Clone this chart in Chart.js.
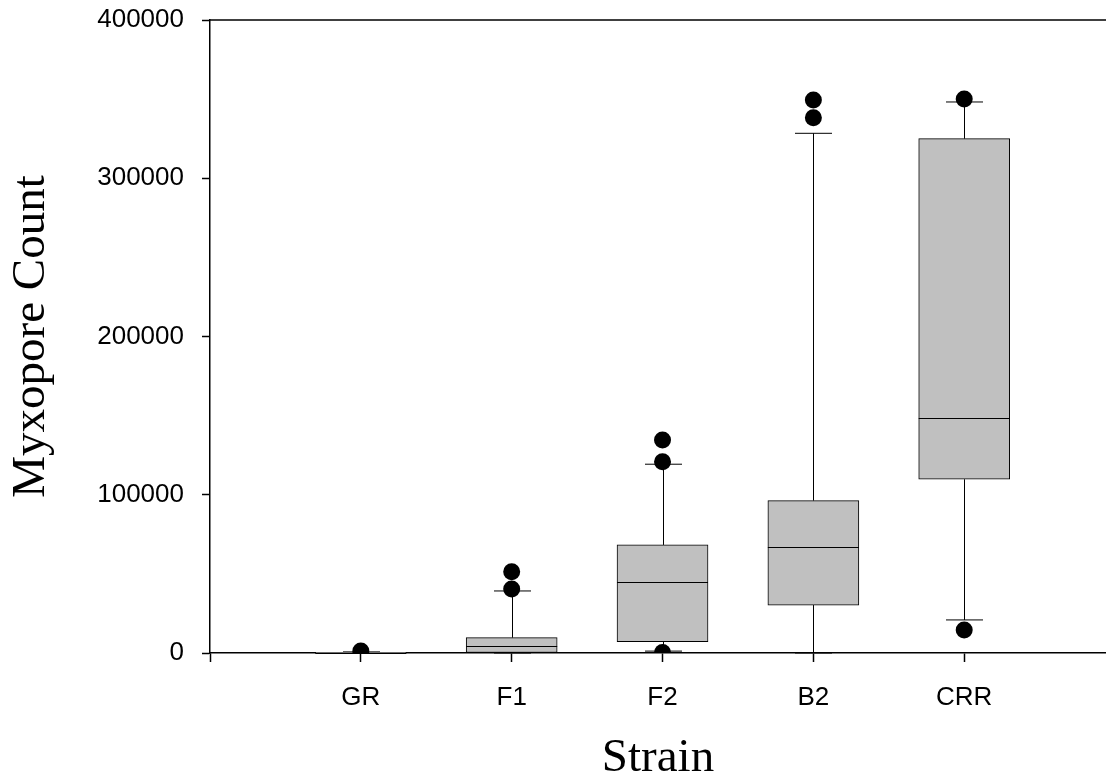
<!DOCTYPE html>
<html>
<head>
<meta charset="utf-8">
<script src="https://cdn.jsdelivr.net/npm/chart.js@4"></script>
<style>
  html, body { margin: 0; padding: 0; background: #fff; }
  #wrap { width: 1106px; height: 782px; position: relative; }
</style>
</head>
<body>
<div id="wrap"><canvas id="boxchart"></canvas></div>
<script>
// box plot values
const strains = ['GR', 'F1', 'F2', 'B2', 'CRR'];
const lowerWhisker = [0, 0, 1200, 0, 20900];
const q1 = [0, 0, 7100, 30300, 109800];
const median = [100, 4400, 44900, 67000, 148700];
const q3 = [500, 9700, 68300, 96300, 325000];
const upperWhisker = [700, 39200, 119300, 328400, 348200];
const outliers = [[1200], [40400, 51400], [300, 120900, 134600], [338300, 349500], [14500, 350100]];

const yTicks = [0, 100000, 200000, 300000, 400000];

const BOX_W = 91;   // px
const CAP_W = 37;   // px

const boxData = strains.map((s, i) => ({x: i + 1, y: [q1[i], q3[i]]}));
const outlierData = [];
outliers.forEach((arr, i) => arr.forEach(v => outlierData.push({x: i + 1, y: v})));

const frameLines = {
    id: 'frameLines',
    beforeDatasetsDraw(chart) {
        const ctx = chart.ctx, xs = chart.scales.x, ys = chart.scales.y;
        ctx.save();
        ctx.strokeStyle = '#000';
        ctx.lineWidth = 1;
        strains.forEach((s, i) => {
            const x = Math.round(xs.getPixelForValue(i + 1)) + 0.5;
            const yu = ys.getPixelForValue(upperWhisker[i]);
            const yq3 = ys.getPixelForValue(q3[i]);
            const yl = ys.getPixelForValue(lowerWhisker[i]);
            const yq1 = ys.getPixelForValue(q1[i]);
            ctx.beginPath();
            ctx.moveTo(x, yq3); ctx.lineTo(x, yu);
            ctx.moveTo(x - CAP_W / 2, yu); ctx.lineTo(x + CAP_W / 2, yu);
            ctx.moveTo(x, yq1); ctx.lineTo(x, yl);
            ctx.moveTo(x - CAP_W / 2, yl); ctx.lineTo(x + CAP_W / 2, yl);
            ctx.stroke();
        });
        ctx.restore();
    },
    afterDatasetDraw(chart, args) {
        if (args.meta.type !== 'bar') return;
        const ctx = chart.ctx, xs = chart.scales.x, ys = chart.scales.y;
        ctx.save();
        ctx.strokeStyle = '#000';
        ctx.lineWidth = 1;
        strains.forEach((s, i) => {
            const x = xs.getPixelForValue(i + 1);
            const y = Math.round(ys.getPixelForValue(median[i])) + 0.5;
            ctx.beginPath();
            ctx.moveTo(x - BOX_W / 2, y); ctx.lineTo(x + BOX_W / 2, y);
            ctx.stroke();
        });
        ctx.restore();
    },
    afterDraw(chart) {
        // top frame line
        const ctx = chart.ctx, a = chart.chartArea;
        ctx.save();
        ctx.strokeStyle = '#000';
        ctx.lineWidth = 1.5;
        ctx.beginPath();
        ctx.moveTo(a.left, a.top);
        ctx.lineTo(a.right, a.top);
        ctx.stroke();
        ctx.restore();
    }
};

const boxchart = new Chart('boxchart', {
    type: 'bar',
    data: {
        datasets: [{
            type: 'scatter',
            data: outlierData,
            backgroundColor: '#000',
            borderWidth: 0,
            pointRadius: 8.5,
            order: 1
        }, {
            type: 'bar',
            data: boxData,
            backgroundColor: '#c0c0c0',
            borderColor: '#000',
            borderWidth: 1,
            borderSkipped: false,
            barThickness: BOX_W,
            order: 2
        }]
    },
    options: {
        responsive: true,
        maintainAspectRatio: false,
        animation: false,
        layout: {autoPadding: false, padding: {top: 20, right: 0, left: 0, bottom: 0}},
        plugins: {
            legend: {display: false},
            tooltip: {enabled: false}
        },
        scales: {
            x: {
                type: 'linear',
                min: 0,
                max: 5.94,
                offset: false,
                afterBuildTicks(scale) {
                    scale.ticks = [0, 1, 2, 3, 4, 5].map(v => ({value: v}));
                },
                afterFit(scale) {
                    scale.height = 129;
                    scale.paddingLeft = 0;
                    scale.paddingRight = 0;
                },
                ticks: {
                    autoSkip: false,
                    maxRotation: 0,
                    padding: 20,
                    color: '#000',
                    font: {family: '"Liberation Sans", Arial, sans-serif', size: 26},
                    callback: v => strains[v - 1] || ''
                },
                grid: {offset: false, drawOnChartArea: false, drawTicks: true, tickLength: 9, tickColor: '#000', tickWidth: 1.5},
                border: {display: true, color: '#000', width: 1.5},
                title: {
                    display: true,
                    text: 'Strain',
                    color: '#000',
                    padding: 0,
                    font: {family: '"Liberation Serif", "Times New Roman", serif', size: 47, lineHeight: 1}
                }
            },
            y: {
                min: 0,
                max: 400000,
                afterBuildTicks(scale) {
                    scale.ticks = yTicks.map(v => ({value: v}));
                },
                afterFit(scale) {
                    scale.width = 210;
                    scale.paddingTop = 0;
                    scale.paddingBottom = 0;
                },
                ticks: {
                    padding: 18,
                    color: '#000',
                    font: {family: '"Liberation Sans", Arial, sans-serif', size: 26},
                    callback: v => String(v)
                },
                grid: {drawOnChartArea: false, drawTicks: true, tickLength: 8, tickColor: '#000', tickWidth: 1.5},
                border: {display: true, color: '#000', width: 1.5},
                title: {
                    display: true,
                    text: 'Myxopore Count',
                    color: '#000',
                    padding: {top: 3, bottom: 0},
                    font: {family: '"Liberation Serif", "Times New Roman", serif', size: 47}
                }
            }
        }
    },
    plugins: [frameLines]
});
</script>
</body>
</html>
